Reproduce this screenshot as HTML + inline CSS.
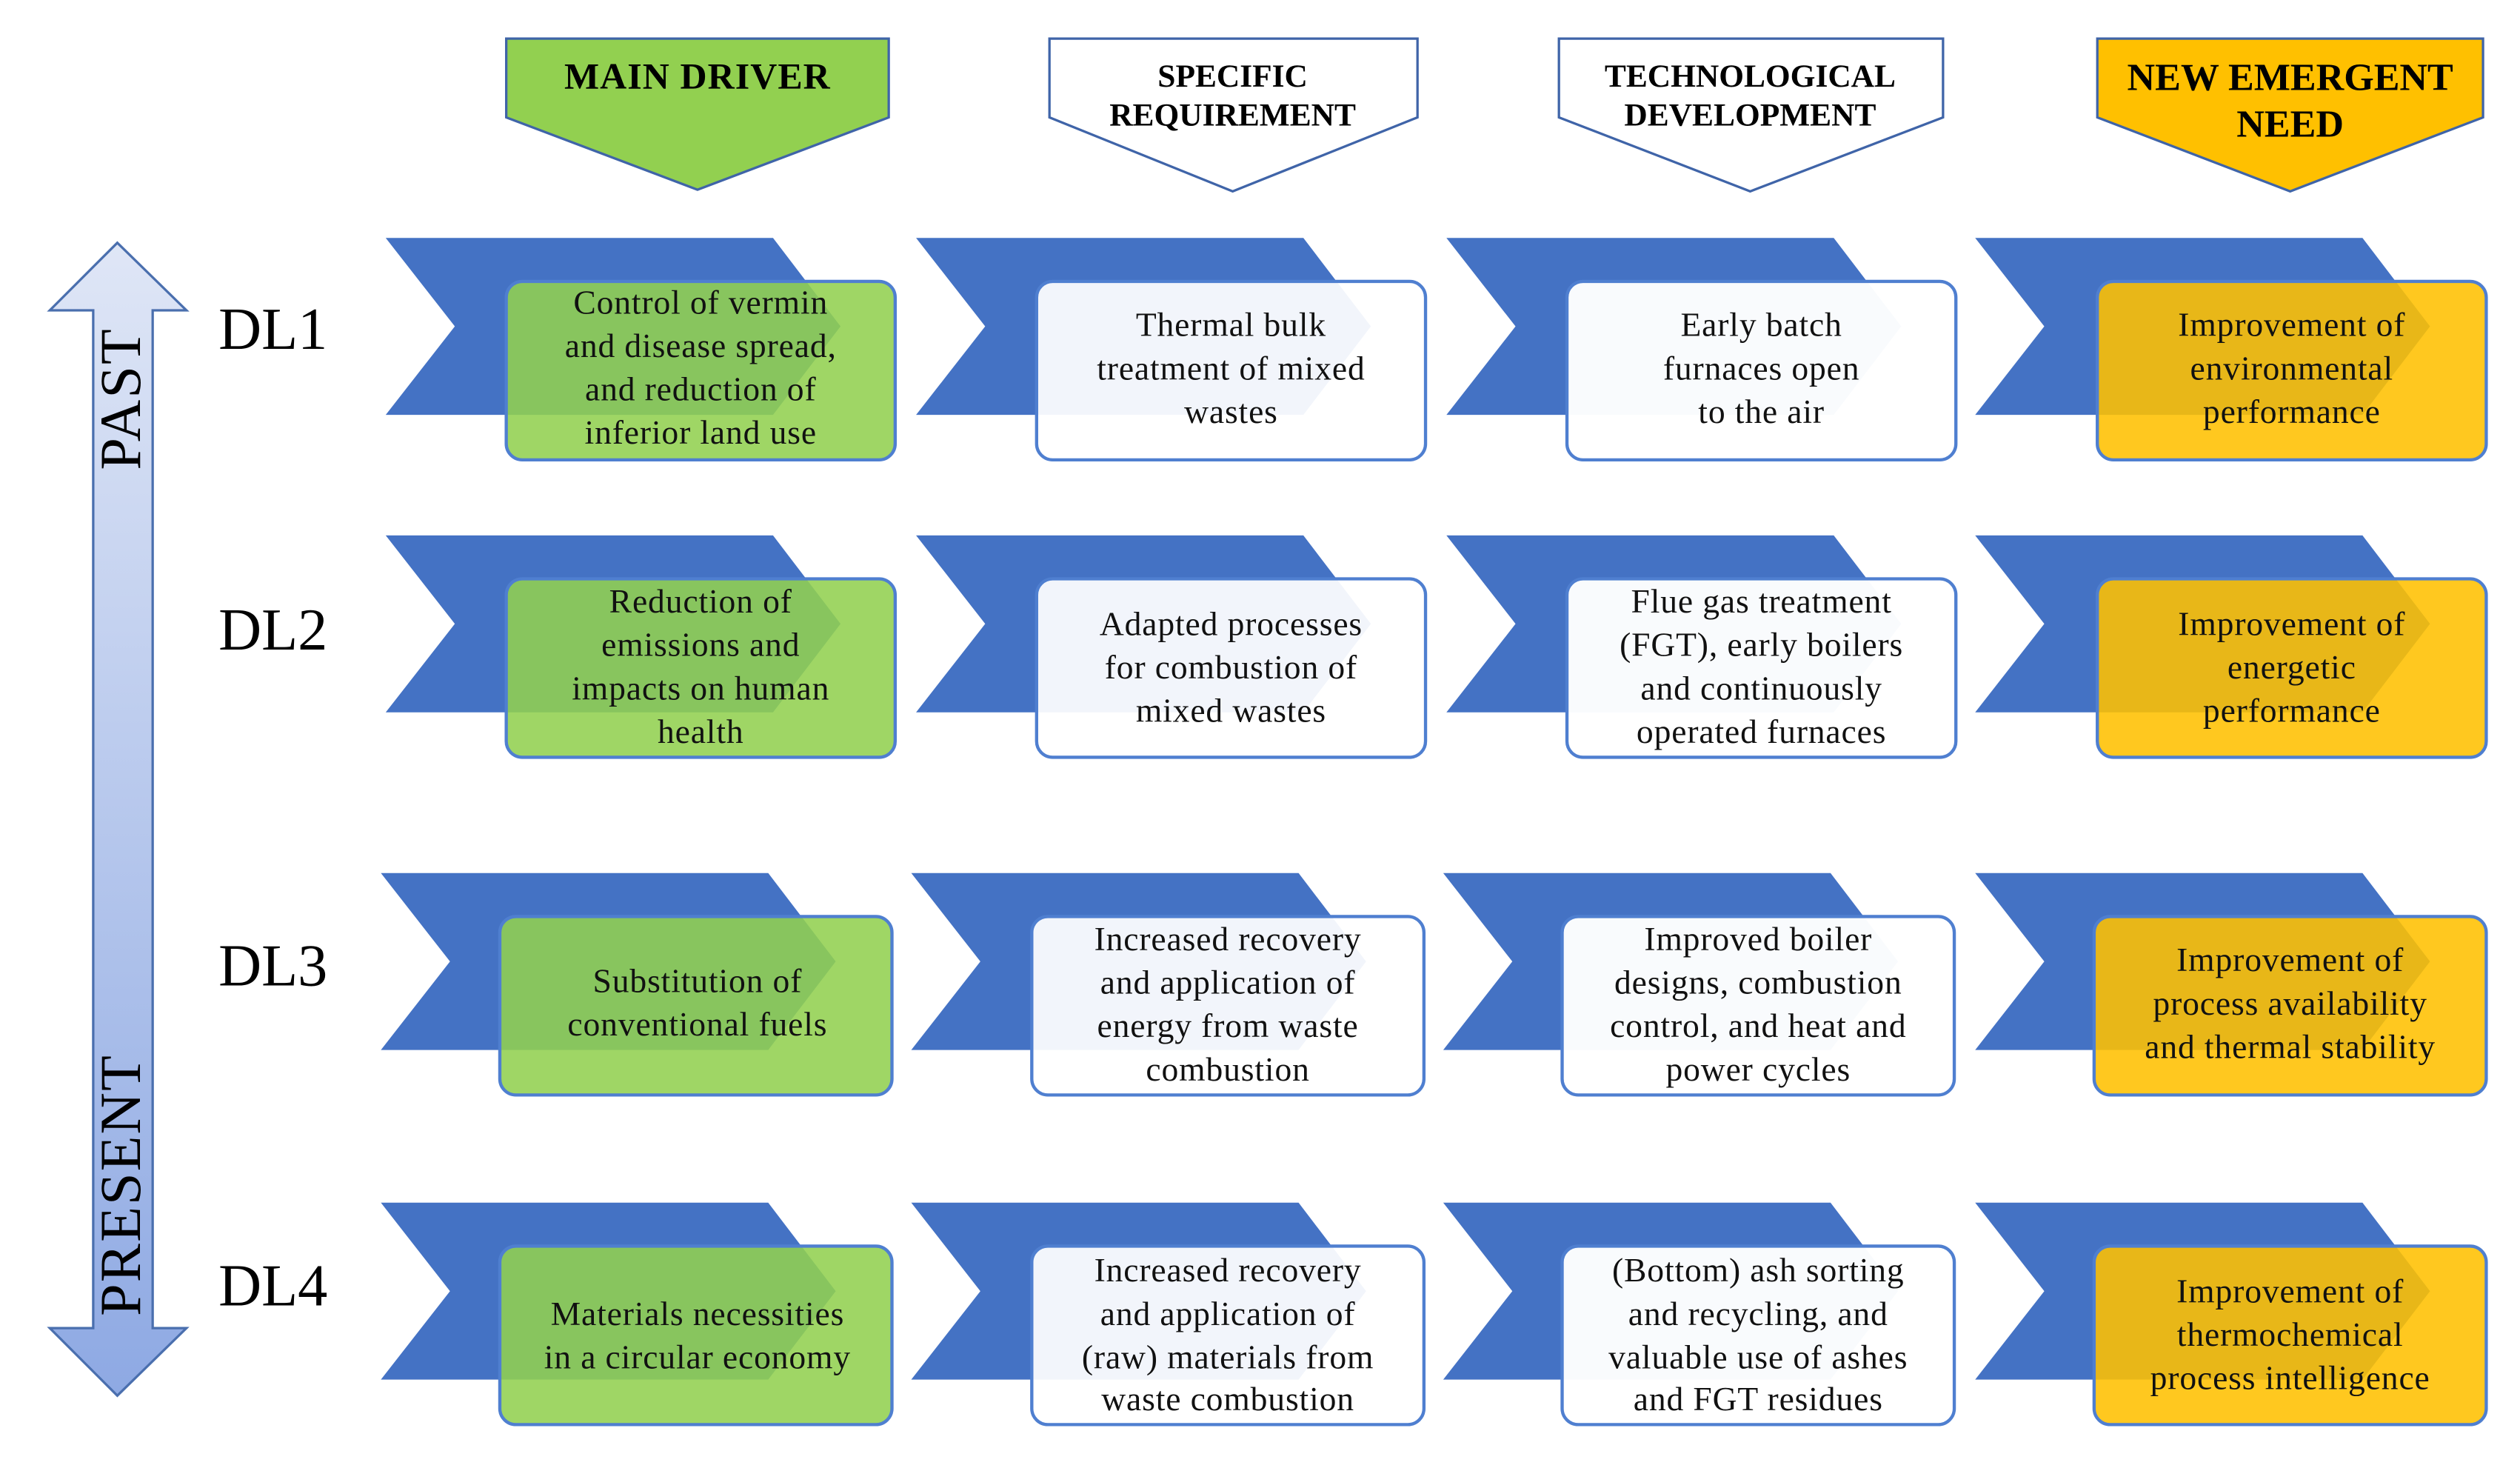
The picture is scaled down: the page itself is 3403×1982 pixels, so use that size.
<!DOCTYPE html>
<html><head><meta charset="utf-8"><style>
html,body{margin:0;padding:0;background:#fff;}
svg{display:block;}
</style></head><body>
<svg width="3403" height="1982" viewBox="0 0 1568 913" preserveAspectRatio="none" xmlns="http://www.w3.org/2000/svg" font-family="'Liberation Serif', serif">
<defs>
<linearGradient id="ag" x1="0" y1="0" x2="0" y2="1">
<stop offset="0" stop-color="#dfe6f6"/>
<stop offset="1" stop-color="#8ea9e3"/>
</linearGradient>
</defs>
<rect width="1568" height="913" fill="#fff"/>

<polygon points="73,151 116,193 95,193 95,826 116,826 73,868 31,826 58,826 58,193 31,193" fill="url(#ag)" stroke="#4a6fae" stroke-width="1.5"/>
<text transform="translate(87,248) rotate(-90)" text-anchor="middle" font-size="36" letter-spacing="1">PAST</text>
<text transform="translate(87,737) rotate(-90)" text-anchor="middle" font-size="36" letter-spacing="1">PRESENT</text>

<g font-size="37" text-anchor="start">
<text x="136" y="217">DL1</text>
<text x="136" y="404">DL2</text>
<text x="136" y="613">DL3</text>
<text x="136" y="812">DL4</text>
</g>

<g stroke="#3f64a8" stroke-width="1.5">
<polygon points="315,24 553,24 553,73 434,118 315,73" fill="#92d050"/>
<polygon points="653,24 882,24 882,73 767,119 653,73" fill="#fff"/>
<polygon points="970,24 1209,24 1209,73 1089,119 970,73" fill="#fff"/>
<polygon points="1305,24 1545,24 1545,73 1425,119 1305,73" fill="#ffc000"/>
</g>
<g font-weight="bold" text-anchor="middle">
<text x="434" y="55" font-size="23" letter-spacing="0.5">MAIN DRIVER</text>
<text x="767" y="54" font-size="20">SPECIFIC</text>
<text x="767" y="78" font-size="20">REQUIREMENT</text>
<text x="1089" y="54" font-size="20">TECHNOLOGICAL</text>
<text x="1089" y="78" font-size="20">DEVELOPMENT</text>
<text x="1425" y="56" font-size="24">NEW EMERGENT</text>
<text x="1425" y="85" font-size="24">NEED</text>
</g>

<g fill="#4472c4">
<polygon points="240,148 481,148 523,203 481,258 240,258 283,203"/>
<polygon points="570,148 811,148 853,203 811,258 570,258 613,203"/>
<polygon points="900,148 1141,148 1183,203 1141,258 900,258 943,203"/>
<polygon points="1229,148 1470,148 1512,203 1470,258 1229,258 1272,203"/>
<polygon points="240,333 481,333 523,388 481,443 240,443 283,388"/>
<polygon points="570,333 811,333 853,388 811,443 570,443 613,388"/>
<polygon points="900,333 1141,333 1183,388 1141,443 900,443 943,388"/>
<polygon points="1229,333 1470,333 1512,388 1470,443 1229,443 1272,388"/>
<polygon points="237,543 478,543 520,598 478,653 237,653 280,598"/>
<polygon points="567,543 808,543 850,598 808,653 567,653 610,598"/>
<polygon points="898,543 1139,543 1181,598 1139,653 898,653 941,598"/>
<polygon points="1229,543 1470,543 1512,598 1470,653 1229,653 1272,598"/>
<polygon points="237,748 478,748 520,803 478,858 237,858 280,803"/>
<polygon points="567,748 808,748 850,803 808,858 567,858 610,803"/>
<polygon points="898,748 1139,748 1181,803 1139,858 898,858 941,803"/>
<polygon points="1229,748 1470,748 1512,803 1470,858 1229,858 1272,803"/>
</g>

<g stroke="#4f7fd0" stroke-width="2">
<rect x="315" y="175" width="242" height="111" rx="10" fill="#92d050" fill-opacity="0.88"/>
<rect x="645" y="175" width="242" height="111" rx="10" fill="#fff" fill-opacity="0.93"/>
<rect x="975" y="175" width="242" height="111" rx="10" fill="#fff" fill-opacity="0.97"/>
<rect x="1305" y="175" width="242" height="111" rx="10" fill="#ffc000" fill-opacity="0.88"/>
<rect x="315" y="360" width="242" height="111" rx="10" fill="#92d050" fill-opacity="0.88"/>
<rect x="645" y="360" width="242" height="111" rx="10" fill="#fff" fill-opacity="0.93"/>
<rect x="975" y="360" width="242" height="111" rx="10" fill="#fff" fill-opacity="0.97"/>
<rect x="1305" y="360" width="242" height="111" rx="10" fill="#ffc000" fill-opacity="0.88"/>
<rect x="311" y="570" width="244" height="111" rx="10" fill="#92d050" fill-opacity="0.88"/>
<rect x="642" y="570" width="244" height="111" rx="10" fill="#fff" fill-opacity="0.93"/>
<rect x="972" y="570" width="244" height="111" rx="10" fill="#fff" fill-opacity="0.97"/>
<rect x="1303" y="570" width="244" height="111" rx="10" fill="#ffc000" fill-opacity="0.88"/>
<rect x="311" y="775" width="244" height="111" rx="10" fill="#92d050" fill-opacity="0.88"/>
<rect x="642" y="775" width="244" height="111" rx="10" fill="#fff" fill-opacity="0.93"/>
<rect x="972" y="775" width="244" height="111" rx="10" fill="#fff" fill-opacity="0.97"/>
<rect x="1303" y="775" width="244" height="111" rx="10" fill="#ffc000" fill-opacity="0.88"/>
</g>

<g font-size="21" text-anchor="middle" fill="#111" letter-spacing="0.4">
<text x="436" y="195">Control of vermin</text>
<text x="436" y="222">and disease spread,</text>
<text x="436" y="249">and reduction of</text>
<text x="436" y="276">inferior land use</text>
<text x="766" y="209">Thermal bulk</text>
<text x="766" y="236">treatment of mixed</text>
<text x="766" y="263">wastes</text>
<text x="1096" y="209">Early batch</text>
<text x="1096" y="236">furnaces open</text>
<text x="1096" y="263">to the air</text>
<text x="1426" y="209">Improvement of</text>
<text x="1426" y="236">environmental</text>
<text x="1426" y="263">performance</text>
<text x="436" y="381">Reduction of</text>
<text x="436" y="408">emissions and</text>
<text x="436" y="435">impacts on human</text>
<text x="436" y="462">health</text>
<text x="766" y="395">Adapted processes</text>
<text x="766" y="422">for combustion of</text>
<text x="766" y="449">mixed wastes</text>
<text x="1096" y="381">Flue gas treatment</text>
<text x="1096" y="408">(FGT), early boilers</text>
<text x="1096" y="435">and continuously</text>
<text x="1096" y="462">operated furnaces</text>
<text x="1426" y="395">Improvement of</text>
<text x="1426" y="422">energetic</text>
<text x="1426" y="449">performance</text>
<text x="434" y="617">Substitution of</text>
<text x="434" y="644">conventional fuels</text>
<text x="764" y="591">Increased recovery</text>
<text x="764" y="618">and application of</text>
<text x="764" y="645">energy from waste</text>
<text x="764" y="672">combustion</text>
<text x="1094" y="591">Improved boiler</text>
<text x="1094" y="618">designs, combustion</text>
<text x="1094" y="645">control, and heat and</text>
<text x="1094" y="672">power cycles</text>
<text x="1425" y="604">Improvement of</text>
<text x="1425" y="631">process availability</text>
<text x="1425" y="658">and thermal stability</text>
<text x="434" y="824">Materials necessities</text>
<text x="434" y="851">in a circular economy</text>
<text x="764" y="797">Increased recovery</text>
<text x="764" y="824">and application of</text>
<text x="764" y="851">(raw) materials from</text>
<text x="764" y="877">waste combustion</text>
<text x="1094" y="797">(Bottom) ash sorting</text>
<text x="1094" y="824">and recycling, and</text>
<text x="1094" y="851">valuable use of ashes</text>
<text x="1094" y="877">and FGT residues</text>
<text x="1425" y="810">Improvement of</text>
<text x="1425" y="837">thermochemical</text>
<text x="1425" y="864">process intelligence</text>
</g>
</svg>
</body></html>
